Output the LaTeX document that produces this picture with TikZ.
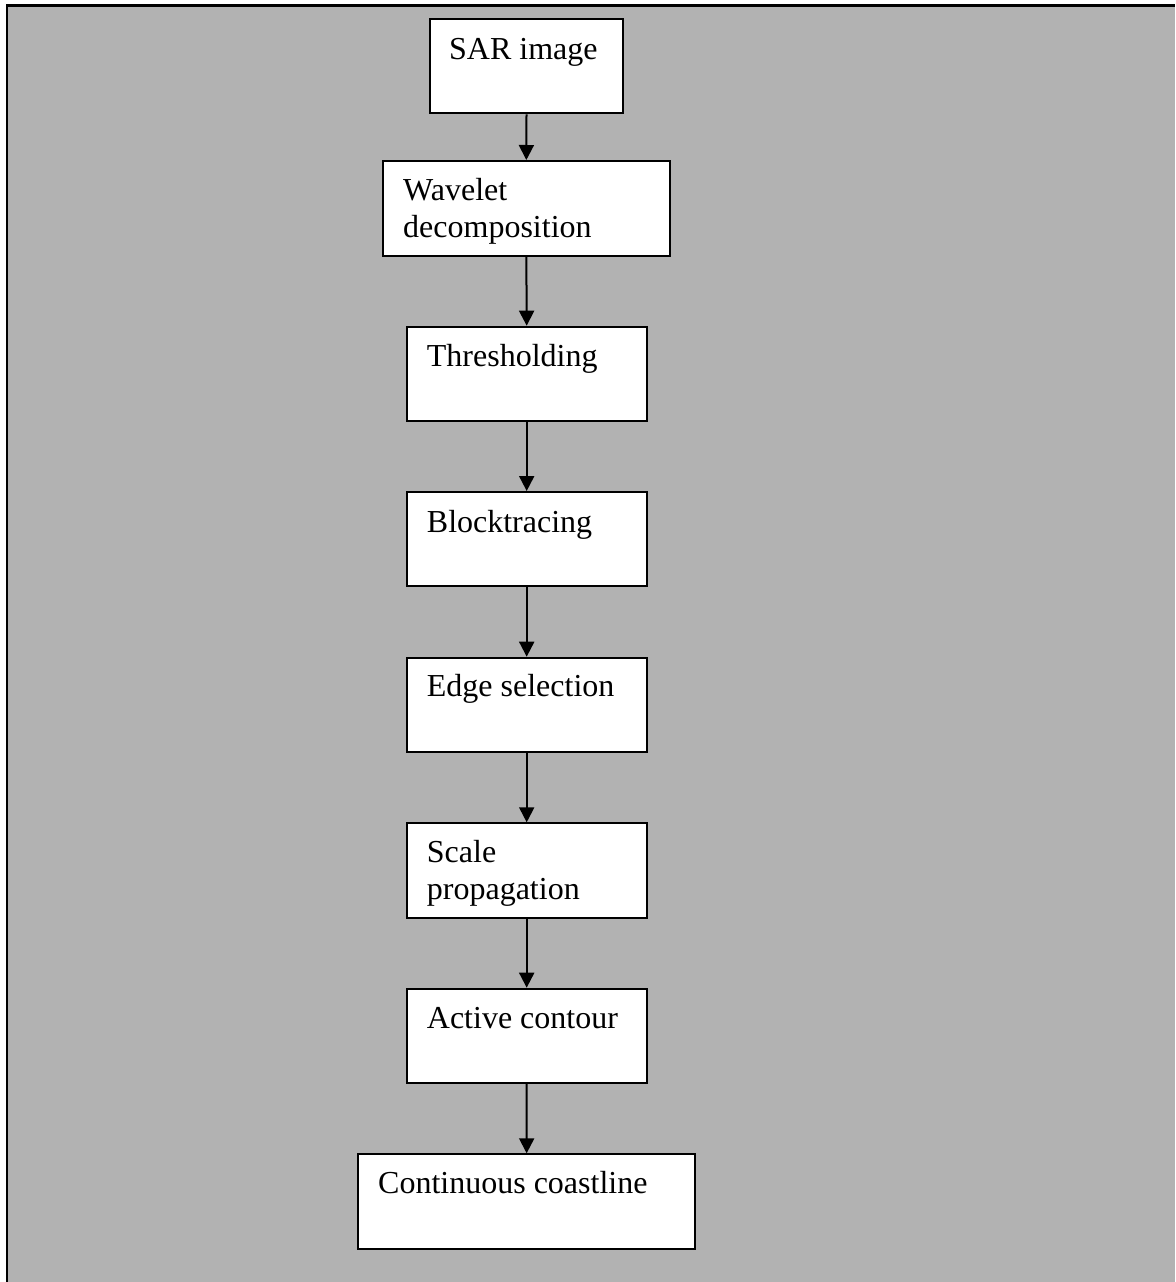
\documentclass[tikz,border=0pt]{standalone}
\usepackage{fontspec}
\setmainfont{Liberation Serif}
\usetikzlibrary{arrows.meta}
\definecolor{panelgray}{RGB}{178,178,178}
\begin{document}
\begin{tikzpicture}[x=1pt,y=-1pt,
  box/.style={draw=black, line width=2pt, fill=white, rectangle,
              anchor=north west, inner sep=0pt},
  lbl/.style={anchor=base west, inner sep=0pt,
              font=\fontsize{32}{37}\selectfont, align=left},
  flow/.style={-{Triangle[width=15pt,length=15pt]}, line width=2pt}]
  \useasboundingbox (0,0) rectangle (1175,1282);
  % panel background with its frame
  \fill[panelgray] (7,5.3) rectangle (1175,1282);
  \draw[line width=2.7pt] (7,1282) -- (7,5.3) -- (1175,5.3);

  % process boxes
  \node[box, minimum width=193pt,   minimum height=94pt]   (b1) at (429,18.3)   {};
  \node[box, minimum width=287.3pt, minimum height=95pt]   (b2) at (381.7,160)  {};
  \node[box, minimum width=240pt,   minimum height=94.3pt] (b3) at (405.7,325.7) {};
  \node[box, minimum width=240pt,   minimum height=94pt]   (b4) at (405.7,491)  {};
  \node[box, minimum width=240pt,   minimum height=94.3pt] (b5) at (405.7,656.7) {};
  \node[box, minimum width=240pt,   minimum height=94.4pt] (b6) at (405.7,822.3) {};
  \node[box, minimum width=240pt,   minimum height=94.3pt] (b7) at (405.7,987.7) {};
  \node[box, minimum width=336.7pt, minimum height=95pt]   (b8) at (357.3,1153.3) {};

  % box texts (two-line texts sit on the baseline of their last line)
  \node[lbl] (t1) at (449,59.3)    {SAR image};
  \node[lbl] (t2) at (403,237)     {Wavelet\\decomposition};
  \node[lbl] (t3) at (426.7,366.7) {Thresholding};
  \node[lbl] (t4) at (426.7,532.7) {Blocktracing};
  \node[lbl] (t5) at (426.7,696.7) {Edge selection};
  \node[lbl] (t6) at (426.7,899)   {Scale\\propagation};
  \node[lbl] (t7) at (426.7,1028.3) {Active contour};
  \node[lbl] (t8) at (378,1193.3)  {Continuous coastline};

  % flow arrows
  \draw[flow] (b1.south) -- (b2.north);
  \draw[flow] (b2.south) -- (b3.north);
  \draw[flow] (b3.south) -- (b4.north);
  \draw[flow] (b4.south) -- (b5.north);
  \draw[flow] (b5.south) -- (b6.north);
  \draw[flow] (b6.south) -- (b7.north);
  \draw[flow] (b7.south) -- (b8.north);
\end{tikzpicture}
\end{document}
